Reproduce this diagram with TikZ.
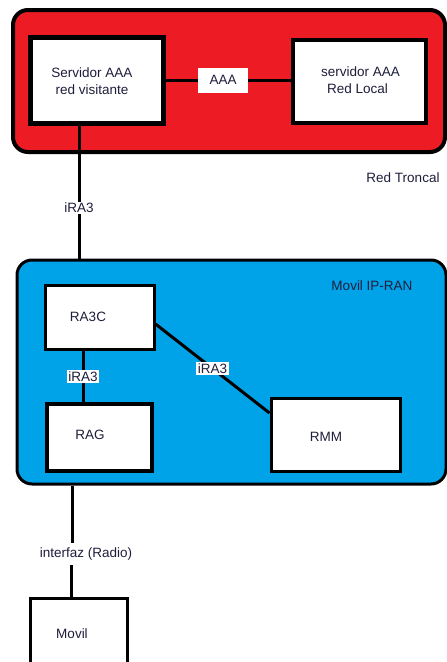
\documentclass[tikz,border=0pt]{standalone}
\usepackage{fontspec}
\setmainfont{Liberation Sans}
\definecolor{redbg}{RGB}{237,28,36}
\definecolor{bluebg}{RGB}{0,162,232}
\definecolor{txt}{RGB}{30,30,60}
\begin{document}
\begin{tikzpicture}[x=1pt,y=-1pt,
  font=\fontsize{13.5}{17}\selectfont, text=txt,
  area/.style={draw=black, rounded corners=15pt, inner sep=0pt},
  box/.style={draw=black, fill=white, inner sep=0pt, align=center},
  lbl/.style={fill=white, inner sep=1.5pt, text=txt},
  conn/.style={draw=black, line width=3pt}]
\useasboundingbox (0,0) rectangle (447,662);

% containers
\node[area, fill=redbg, line width=4pt, minimum width=432pt, minimum height=142pt] (troncal) at (229,81) {};
\node[area, fill=bluebg, line width=3pt, minimum width=429pt, minimum height=224pt] (ipran) at (231.5,372) {};

% labels of containers
\node (tlabel) at (403,178) {Red Troncal};
\node (rlabel) at (372,286) {Movil IP-RAN};

% boxes
\node[box, line width=5pt, minimum width=133pt, minimum height=86pt,
      label={[shift={(-4.5,-7)}]center:Servidor AAA}, label={[shift={(-4.5,10)}]center:red visitante}] (visit) at (96.5,80) {};
\node[box, line width=4.5pt, minimum width=133pt, minimum height=83pt,
      label={[shift={(1,-9.5)}]center:servidor AAA}, label={[shift={(-2,7.5)}]center:Red Local}] (local) at (359.5,81.5) {};
\node[box, line width=3pt, minimum width=109pt, minimum height=64pt,
      label={[shift={(-11.5,0)}]center:RA3C}] (ra3c) at (99.5,317) {};
\node[box, line width=3.5pt, minimum width=105pt, minimum height=67pt,
      label={[shift={(-9.5,-2.5)}]center:RAG}] (rag) at (99.5,437.5) {};
\node[box, line width=3pt, minimum width=129pt, minimum height=73pt,
      label={[shift={(-9.5,2.5)}]center:RMM}] (rmm) at (335.5,434.5) {};
\node[box, line width=3pt, minimum width=97pt, minimum height=74pt,
      label={[shift={(-6.5,-1)}]center:Movil}] (movil) at (78.5,635) {};

% connectors
\draw[conn] (visit.east |- 0,80) -- node[lbl, minimum width=50pt, minimum height=25pt, pos=0.46] {AAA} (local.west |- 0,80);
\draw[conn] ([xshift=-17.5pt]visit.south) -- node[lbl, pos=0.62, fill=white] {iRA3} ([xshift=-17.5pt]visit.south |- ipran.north);
\draw[conn] ([xshift=-16.5pt]ra3c.south) -- node[lbl] {iRA3} ([xshift=-16.5pt]rag.north);
\draw[conn] ([yshift=-7pt]ra3c.east) -- node[lbl] {iRA3} ([yshift=21.5pt]rmm.west);

\coordinate (ia) at ([xshift=-159pt]ipran.south);
\node[inner sep=5pt] (ifz) at (86,554) {interfaz (Radio)};
\draw[conn] (ia) -- (ia |- ifz.north);
\draw[conn] ([xshift=-1pt]ia |- ifz.south) -- ([xshift=-1pt]ia |- movil.north);
\end{tikzpicture}
\end{document}
